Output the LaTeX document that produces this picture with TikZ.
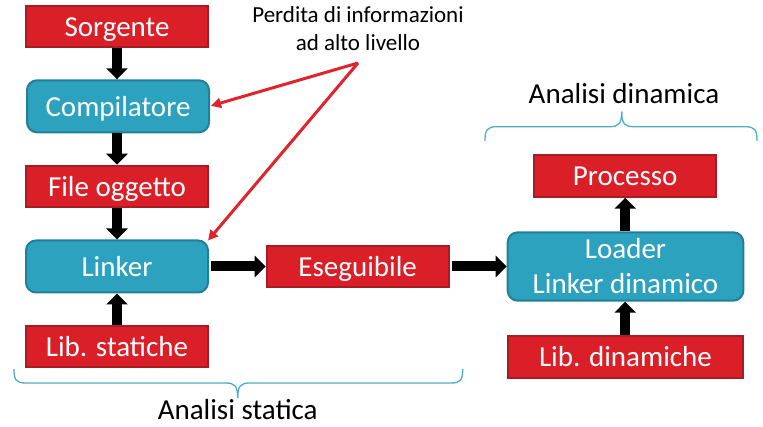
\documentclass[tikz,border=0pt]{standalone}
\usepackage{fontspec}
\setmainfont{Carlito}
\usetikzlibrary{arrows.meta}
\definecolor{boxred}{HTML}{DA1F28}
\definecolor{boxredb}{HTML}{A81C24}
\definecolor{boxblue}{HTML}{2CA2BF}
\definecolor{boxblueb}{HTML}{237F97}
\definecolor{arrred}{HTML}{E0242C}
\definecolor{bracec}{HTML}{4BACC6}
\tikzset{
  redbox/.style={draw=boxredb, fill=boxred, line width=2pt, text=white, minimum width=182pt, minimum height=41.5pt, inner sep=0pt, text height=20pt, text depth=0pt, font=\fontsize{29}{32}\selectfont},
  bluebox/.style={draw=boxblueb, fill=boxblue, line width=2pt, rounded corners=10pt, text=white, minimum width=182pt, minimum height=52pt, inner sep=0pt, font=\fontsize{29}{32}\selectfont, align=center},
  blockarr/.style={line width=10pt, -{Triangle[width=21pt,length=11pt]}},
  notearr/.style={draw=arrred, line width=3pt, -{Triangle[width=10pt,length=10pt]}},
  bracestyle/.style={draw=bracec, line width=1.3pt},
  lbl/.style={font=\fontsize{29}{32}\selectfont, inner sep=0pt, anchor=base},
}
\begin{document}
\begin{tikzpicture}[x=1pt,y=-1pt]
\useasboundingbox (0,0) rectangle (763,427);
% nodes
\node[redbox] (sorg) at (117,26.3) {Sorgente};
\node[bluebox, text height=20pt, text depth=0pt] (comp) at (118,106.3) {Compilatore};
\node[redbox] (file) at (117,186.5) {File oggetto};
\node[bluebox, text height=20pt, text depth=0pt] (link) at (117,266.5) {Linker};
\node[redbox] (libs) at (117,346.5) {Lib. statiche};
\node[redbox] (eseg) at (357.7,266.5) {Eseguibile};
\node[bluebox, minimum width=235.6pt, minimum height=68.4pt, font=\fontsize{29}{35}\selectfont] (load) at (625.5,266.5) {Loader\\Linker dinamico};
\node[redbox, minimum width=181.7pt] (proc) at (625.2,176) {Processo};
\node[redbox, minimum width=235.6pt] (libd) at (625.5,357) {Lib. dinamiche};
% block arrows
\draw[blockarr] (sorg.south) -- (comp.north -| sorg.south);
\draw[blockarr] (comp.south -| sorg.south) -- (file.north);
\draw[blockarr] (file.south) -- (link.north);
\draw[blockarr] (libs.north) -- (link.south);
\draw[blockarr] ([xshift=2pt]link.east) -- (eseg.west);
\draw[blockarr] ([xshift=2pt]eseg.east) -- (load.west);
\draw[blockarr] (load.north -| proc.south) -- (proc.south);
\draw[blockarr] (libd.north -| proc.south) -- (load.south -| proc.south);
% note
\node[font=\fontsize{23}{28}\selectfont, align=center, inner sep=0pt] (note) at (358,29) {Perdita di informazioni\\ad alto livello};
\coordinate (nsrc) at (358,63);
\draw[notearr] (nsrc) -- ([xshift=1pt,yshift=0.5pt]comp.east);
\draw[notearr] (nsrc) -- ([xshift=-1pt,yshift=-1pt]link.north east);
% braces
\coordinate (sbl) at (14,369);
\coordinate (sbr) at (462.7,369);
\coordinate (sbt) at (237.7,398);
\draw[bracestyle] (sbl) .. controls (14,380) and (16,383) .. (26,383) -- (225.7,383) .. controls (234.7,383) and (237.7,386) .. (sbt);
\draw[bracestyle] (sbr) .. controls (462.7,380) and (460.7,383) .. (450.7,383) -- (249.7,383) .. controls (240.7,383) and (237.7,386) .. (sbt);
\coordinate (dbl) at (485,141);
\coordinate (dbr) at (757,141);
\coordinate (dbt) at (621.7,111.7);
\draw[bracestyle] (dbl) .. controls (485,130) and (487,126.7) .. (497,126.7) -- (609.7,126.7) .. controls (618.7,126.7) and (621.7,123.7) .. (dbt);
\draw[bracestyle] (dbr) .. controls (757,130) and (755,126.7) .. (745,126.7) -- (633.7,126.7) .. controls (624.7,126.7) and (621.7,123.7) .. (dbt);
\node[lbl] (stat) at (237.7,420) {Analisi statica};
\node[lbl] (dyn) at (624,103.3) {Analisi dinamica};
\end{tikzpicture}
\end{document}
